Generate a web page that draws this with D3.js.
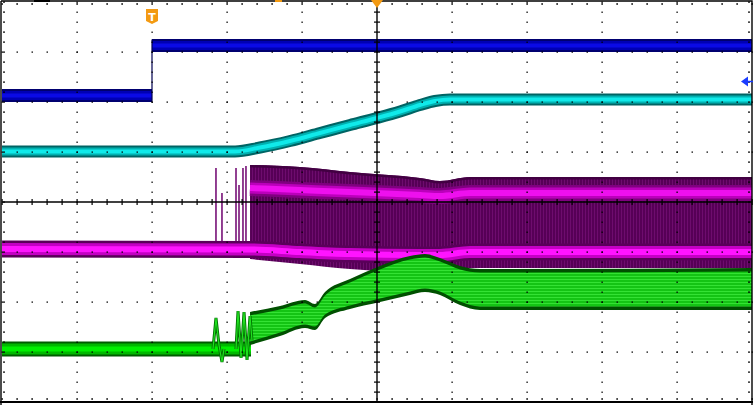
<!DOCTYPE html>
<html>
<head>
<meta charset="utf-8">
<script src="https://cdn.jsdelivr.net/npm/d3@7"></script>
<style>
  html, body { margin: 0; padding: 0; background: #fff; }
  svg { display: block; }
</style>
</head>
<body>
<svg></svg>
<script>
// time axis in divisions (0..10), amplitude in divisions (-4..4)
const blueT = [0, 2, 10];
const blueV = [2.13, 3.13];

const cyanT = [0, 3.107, 3.44, 3.84, 4.24, 4.64, 5.0, 5.307, 5.573, 5.773, 5.973, 10];
const cyanV = [1.01, 1.01, 1.09, 1.22, 1.38, 1.54, 1.68, 1.81, 1.94, 2.02, 2.05, 2.05];

const magLowT = [0, 3.307, 3.973, 4.64, 5.573, 5.84, 6.24, 10];
const magLowV = [-0.94, -0.95, -1.00, -1.04, -1.06, -1.06, -1.00, -1.00];
const magT = [3.307, 3.973, 4.64, 5.573, 5.84, 6.24, 10];
const magTop = [0.74, 0.70, 0.60, 0.48, 0.42, 0.50, 0.50];
const magBot = [-1.14, -1.24, -1.34, -1.40, -1.38, -1.32, -1.32];
const magHigh = [0.28, 0.24, 0.20, 0.14, 0.12, 0.18, 0.18];
const magSpikeT = [2.853, 2.933, 3.12, 3.16, 3.213, 3.253];
const magSpikeV = [0.68, 0.18, 0.68, 0.34, 0.68, 0.72];

const greenFlatT = [0, 3.32];
const greenFlatV = -2.94;
const greenT = [3.307, 3.707, 4.04, 4.173, 4.307, 4.64, 5.04, 5.44, 5.64, 5.84, 6.107, 6.373, 10];
const greenTop = [-2.20, -2.08, -1.96, -2.04, -1.80, -1.54, -1.28, -1.08, -1.04, -1.12, -1.28, -1.34, -1.32];
const greenBot = [-2.86, -2.68, -2.52, -2.56, -2.32, -2.14, -2.00, -1.86, -1.80, -1.86, -2.06, -2.16, -2.16];
const greenZigT = [2.813, 2.853, 2.893, 2.933, 2.96, null, 3.12, 3.147, 3.187, 3.227, 3.267, 3.307, 3.333];
const greenZigV = [-2.94, -2.32, -2.86, -3.20, -2.94, null, -2.94, -2.18, -3.12, -2.20, -3.16, -2.28, -2.76];

const triggerT = 2;
const cursorT = 5;
const levelMarkV = 2.41;

const width = 753;
const height = 405;

const svg = d3.select('svg')
  .attr('width', width)
  .attr('height', height);

svg.append('rect')
  .attr('width', width)
  .attr('height', height)
  .attr('fill', '#fff');

const x = d3.scaleLinear().domain([0, 10]).range([2, 752]);
const y = d3.scaleLinear().domain([-4, 4]).range([402, 2]);

const defs = svg.append('defs');

const purpleStripes = defs.append('pattern')
  .attr('id', 'purpleStripes')
  .attr('patternUnits', 'userSpaceOnUse')
  .attr('width', 3)
  .attr('height', 10);
purpleStripes.append('rect').attr('width', 3).attr('height', 10).attr('fill', '#560056');
purpleStripes.append('rect').attr('width', 1).attr('height', 10).attr('fill', '#6e0c6e');

const greenStripes = defs.append('pattern')
  .attr('id', 'greenStripes')
  .attr('patternUnits', 'userSpaceOnUse')
  .attr('width', 10)
  .attr('height', 3);
greenStripes.append('rect').attr('width', 10).attr('height', 3).attr('fill', '#14c414');
greenStripes.append('rect').attr('width', 10).attr('height', 1).attr('fill', '#34e234');

const zip = (ts, vs) => ts.map((t, i) => ({ t: t, v: vs[i] }));

const line = d3.line()
  .defined(d => d.t !== null)
  .x(d => x(d.t))
  .y(d => y(d.v));

const smooth = d3.line()
  .curve(d3.curveMonotoneX)
  .x(d => x(d.t))
  .y(d => y(d.v));

const area = d3.area()
  .curve(d3.curveMonotoneX)
  .x(d => x(d.t))
  .y0(d => y(d.lo))
  .y1(d => y(d.hi));

function band(g, d, layers) {
  layers.forEach(l => {
    g.append('path')
      .attr('d', d)
      .attr('fill', 'none')
      .attr('stroke', l[0])
      .attr('stroke-width', l[1])
      .attr('stroke-linecap', 'butt');
  });
}

const traces = svg.append('g').classed('traces', true);

// channel 1 (dark blue) - a single step at the trigger
const blueG = traces.append('g');
blueV.forEach((v, i) => {
  band(blueG, line([{ t: blueT[i], v: v }, { t: blueT[i + 1], v: v }]),
    [['#000070', 13], ['#0000b4', 9], ['#0a0ae6', 4]]);
});
blueG.append('line')
  .attr('x1', x(blueT[1])).attr('x2', x(blueT[1]))
  .attr('y1', y(blueV[0]) + 6).attr('y2', y(blueV[1]) - 6)
  .attr('stroke', '#000050')
  .attr('stroke-width', 1.2);

// channel 2 (cyan) - soft start ramp
band(traces.append('g'), smooth(zip(cyanT, cyanV)),
  [['#006464', 12], ['#00b0b0', 8], ['#10eaea', 4]]);

// channel 3 (magenta) - switch node envelope
const magG = traces.append('g');
magG.append('path')
  .attr('d', area(magT.map((t, i) => ({ t: t, hi: magTop[i], lo: magBot[i] }))))
  .attr('fill', 'url(#purpleStripes)');
magG.append('path')
  .attr('d', area(magT.map((t, i) => ({ t: t, hi: magTop[i], lo: magTop[i] - 0.05 }))))
  .attr('fill', '#420042');
band(magG, smooth(zip(magT, magHigh)),
  [['#800080', 16], ['#bb00bb', 11], ['#ee10ee', 6]]);
magSpikeT.forEach((t, i) => {
  magG.append('line')
    .attr('x1', x(t)).attr('x2', x(t))
    .attr('y1', y(magSpikeV[i]))
    .attr('y2', y(-1.1))
    .attr('stroke', '#6e006e')
    .attr('stroke-width', 1.5);
});
band(magG, smooth(zip(magLowT, magLowV)),
  [['#5a005a', 17], ['#c400c4', 12], ['#ff14ff', 6]]);

// channel 4 (green) - inductor current
const greenG = traces.append('g');
band(greenG, line(greenFlatT.map(t => ({ t: t, v: greenFlatV }))),
  [['#005c00', 15], ['#00b800', 11], ['#00f000', 5]]);
greenG.append('path')
  .attr('d', area(greenT.map((t, i) => ({ t: t, hi: greenTop[i], lo: greenBot[i] }))))
  .attr('fill', '#005000');
greenG.append('path')
  .attr('d', area(greenT.map((t, i) => ({ t: t, hi: greenTop[i] - 0.07, lo: greenBot[i] + 0.07 }))))
  .attr('fill', 'url(#greenStripes)');
greenG.append('path')
  .attr('d', line(zip(greenZigT, greenZigV)))
  .attr('fill', 'none')
  .attr('stroke', '#007000')
  .attr('stroke-width', 3);
greenG.append('path')
  .attr('d', line(zip(greenZigT, greenZigV)))
  .attr('fill', 'none')
  .attr('stroke', '#20e020')
  .attr('stroke-width', 1.2);

// graticule drawn over the traces
const grid = svg.append('g').classed('grid', true);
const minorT = d3.range(0, 10.001, 0.2);
const minorV = d3.range(-4, 4.001, 0.2);

[1, 2, 3, 4, 6, 7, 8, 9].forEach(t => {
  grid.selectAll(null)
    .data(minorV)
    .enter()
    .append('rect')
    .attr('x', x(t) - 0.5)
    .attr('y', d => y(d) - 0.5)
    .attr('width', 1.2)
    .attr('height', 1.5)
    .attr('fill', '#000');
});

[-3, -2, -1, 1, 2, 3].forEach(v => {
  grid.selectAll(null)
    .data(minorT)
    .enter()
    .append('rect')
    .attr('x', d => x(d) - 0.5)
    .attr('y', y(v) - 0.5)
    .attr('width', 1.5)
    .attr('height', 1.2)
    .attr('fill', '#000');
});

// border ticks
grid.selectAll(null).data(minorT).enter().append('rect')
  .attr('x', d => x(d) - 0.5).attr('y', 3).attr('width', 1.2).attr('height', 2).attr('fill', '#000');
grid.selectAll(null).data(minorT).enter().append('rect')
  .attr('x', d => x(d) - 0.5).attr('y', 398).attr('width', 1.2).attr('height', 2).attr('fill', '#000');
grid.selectAll(null).data(minorV).enter().append('rect')
  .attr('x', 3).attr('y', d => y(d) - 0.5).attr('width', 2).attr('height', 1.2).attr('fill', '#000');
grid.selectAll(null).data(minorV).enter().append('rect')
  .attr('x', 748).attr('y', d => y(d) - 0.5).attr('width', 2).attr('height', 1.2).attr('fill', '#000');

// centre axes
grid.append('line')
  .attr('x1', x(0)).attr('x2', x(10))
  .attr('y1', y(0)).attr('y2', y(0))
  .attr('stroke', '#000').attr('stroke-width', 1.4);
grid.append('line')
  .attr('x1', x(5)).attr('x2', x(5))
  .attr('y1', y(4)).attr('y2', y(-4))
  .attr('stroke', '#000').attr('stroke-width', 1.4);
grid.selectAll(null).data(minorT).enter().append('rect')
  .attr('x', d => x(d) - 0.5).attr('y', y(0) - 3).attr('width', 1.2).attr('height', 6).attr('fill', '#000');
grid.selectAll(null).data(minorV).enter().append('rect')
  .attr('x', x(5) - 3).attr('y', d => y(d) - 0.5).attr('width', 6).attr('height', 1.2).attr('fill', '#000');

// frame
grid.append('path')
  .attr('d', `M${x(0) - 1},${y(4) - 1}H${x(10)}V${height}M${x(0) - 1},${y(4) - 1}V${height}`)
  .attr('fill', 'none')
  .attr('stroke', '#000')
  .attr('stroke-width', 1.4);
grid.append('line')
  .attr('x1', 0).attr('x2', width)
  .attr('y1', y(-4)).attr('y2', y(-4))
  .attr('stroke', '#000').attr('stroke-width', 2.2);

// markers
const marks = svg.append('g').classed('markers', true);
const tx = x(triggerT);
marks.append('path')
  .attr('d', `M${tx - 6},9H${tx + 6}V21L${tx},24L${tx - 6},21Z`)
  .attr('fill', '#f39a12');
marks.append('text')
  .attr('x', tx)
  .attr('y', 20.5)
  .attr('text-anchor', 'middle')
  .attr('font-family', 'DejaVu Sans, sans-serif')
  .attr('font-weight', 'bold')
  .attr('font-size', 11)
  .attr('fill', '#fff')
  .text('T');

const cx = x(cursorT);
marks.append('path')
  .attr('d', `M${cx - 6},0H${cx + 6}L${cx},8Z`)
  .attr('fill', '#f39a12');
marks.append('rect')
  .attr('x', 275).attr('y', 0).attr('width', 7).attr('height', 2)
  .attr('fill', '#f39a12');
marks.append('rect')
  .attr('x', 34).attr('y', 0).attr('width', 16).attr('height', 2)
  .attr('fill', '#000');

const ly = y(levelMarkV);
marks.append('path')
  .attr('d', `M741,${ly}L748,${ly - 5}V${ly + 5}Z`)
  .attr('fill', '#1a3cff');
marks.append('line')
  .attr('x1', 746).attr('x2', 753)
  .attr('y1', ly).attr('y2', ly)
  .attr('stroke', '#1a3cff')
  .attr('stroke-width', 1.5);
</script>
</body>
</html>
